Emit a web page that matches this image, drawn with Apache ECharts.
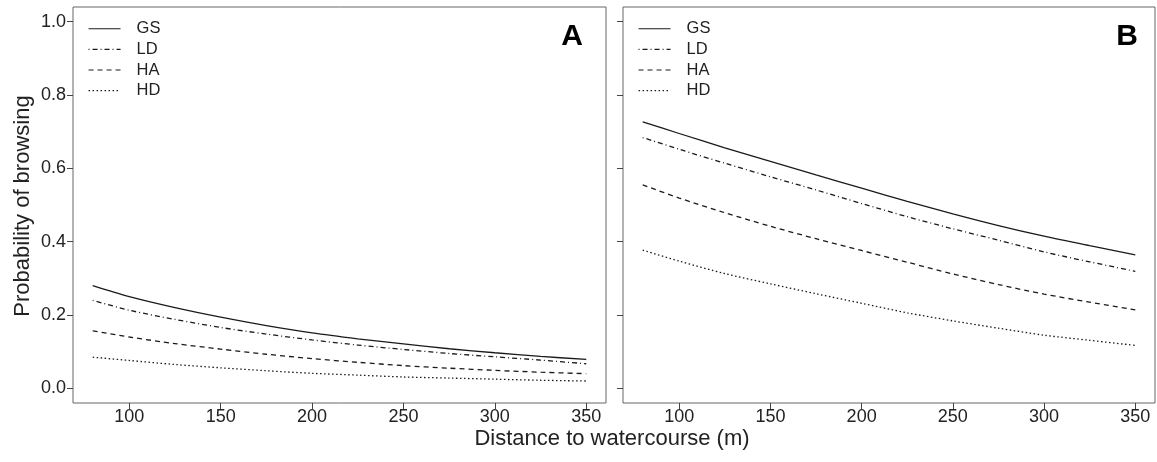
<!DOCTYPE html>
<html>
<head>
<meta charset="utf-8">
<script src="https://cdn.jsdelivr.net/npm/echarts@6/dist/echarts.min.js"></script>
<style>
html,body{margin:0;padding:0;background:#fff;}
#c{width:1157px;height:462px;}
</style>
</head>
<body>
<div id="c"></div>
<script>
var distance = [80, 100, 125, 150, 175, 200, 225, 250, 275, 300, 325, 350];
var seriesNames = ['GS', 'LD', 'HA', 'HD'];
var xTicks = [100, 150, 200, 250, 300, 350];
var yTicks = [0, 0.2, 0.4, 0.6, 0.8, 1.0];
var panelLabels = ['A', 'B'];

// Panel A
var A_GS = [0.280, 0.250, 0.220, 0.194, 0.171, 0.151, 0.135, 0.121, 0.108, 0.097, 0.087, 0.079];
var A_LD = [0.240, 0.213, 0.188, 0.166, 0.148, 0.132, 0.118, 0.106, 0.095, 0.086, 0.077, 0.067];
var A_HA = [0.157, 0.140, 0.122, 0.107, 0.093, 0.081, 0.071, 0.062, 0.055, 0.049, 0.044, 0.040];
var A_HD = [0.085, 0.076, 0.065, 0.056, 0.048, 0.041, 0.036, 0.031, 0.028, 0.025, 0.022, 0.020];
// Panel B
var B_GS = [0.727, 0.695, 0.656, 0.619, 0.582, 0.546, 0.510, 0.476, 0.444, 0.415, 0.389, 0.364];
var B_LD = [0.684, 0.652, 0.614, 0.577, 0.541, 0.504, 0.468, 0.435, 0.404, 0.372, 0.345, 0.319];
var B_HA = [0.555, 0.519, 0.479, 0.442, 0.408, 0.376, 0.344, 0.312, 0.283, 0.257, 0.235, 0.214];
var B_HD = [0.377, 0.347, 0.313, 0.285, 0.258, 0.232, 0.206, 0.184, 0.164, 0.145, 0.131, 0.117];

var panels = [[A_GS, A_LD, A_HA, A_HD], [B_GS, B_LD, B_HA, B_HD]];
var dashTypes = ['solid', [1, 3, 5, 3], [5, 4], [1.5, 2.5]];
var FONT = 'Liberation Sans, Arial, sans-serif';
var INK = '#1a1a1a';

function pairs(vals) {
  return distance.map(function (d, i) { return [d, vals[i]]; });
}

var series = [];
panels.forEach(function (p, pi) {
  p.forEach(function (vals, si) {
    series.push({
      name: seriesNames[si],
      type: 'line',
      xAxisIndex: pi,
      yAxisIndex: pi,
      data: pairs(vals),
      symbol: 'none',
      smooth: 0.3,
      lineStyle: { color: INK, width: 1.3, type: dashTypes[si] },
      itemStyle: { color: INK },
      silent: true
    });
  });
});

function xAxis(gi) {
  return {
    type: 'value', gridIndex: gi, min: 69.2, max: 360.8,
    axisLine: { show: false, onZero: false },
    splitLine: { show: false },
    axisTick: { show: true, length: 6, customValues: xTicks, lineStyle: { color: '#444' } },
    axisLabel: { show: true, customValues: xTicks, margin: 5, fontSize: 18, color: '#222', fontFamily: FONT }
  };
}
function yAxis(gi, showLabels) {
  return {
    type: 'value', gridIndex: gi, min: -0.04, max: 1.04,
    axisLine: { show: false, onZero: false },
    splitLine: { show: false },
    axisTick: { show: true, length: 6, customValues: yTicks, lineStyle: { color: '#444' } },
    axisLabel: {
      show: showLabels, customValues: yTicks, margin: 7, fontSize: 18, color: '#222', fontFamily: FONT,
      formatter: function (v) { return v.toFixed(1); }
    }
  };
}

function legend(left) {
  return {
    left: left, top: 20.3, orient: 'vertical', padding: 0,
    itemWidth: 32, itemHeight: 18, itemGap: 3.6,
    selectedMode: false,
    itemStyle: { opacity: 0 },
    lineStyle: { width: 1.1 },
    textStyle: { fontSize: 16.5, color: '#222', fontFamily: FONT, padding: [0, 0, 0, 11] },
    data: seriesNames
  };
}

var option = {
  animation: false,
  backgroundColor: '#fff',
  grid: [
    { left: 73, top: 7, width: 533, height: 396, show: true, borderColor: '#666', borderWidth: 1, backgroundColor: 'transparent' },
    { left: 623, top: 7, width: 532, height: 396, show: true, borderColor: '#666', borderWidth: 1, backgroundColor: 'transparent' }
  ],
  xAxis: [xAxis(0), xAxis(1)],
  yAxis: [yAxis(0, true), yAxis(1, false)],
  legend: [legend(88), legend(638)],
  series: series,
  graphic: [
    { type: 'text', x: 572, y: 37, style: { text: panelLabels[0], font: 'bold 30px ' + FONT, fill: '#000', textAlign: 'center', textVerticalAlign: 'middle' } },
    { type: 'text', x: 1127, y: 37, style: { text: panelLabels[1], font: 'bold 30px ' + FONT, fill: '#000', textAlign: 'center', textVerticalAlign: 'middle' } },
    { type: 'text', x: 612, y: 439, style: { text: 'Distance to watercourse (m)', font: '22px ' + FONT, fill: '#222', textAlign: 'center', textVerticalAlign: 'middle' } },
    { type: 'text', x: 23, y: 206, rotation: Math.PI / 2, style: { text: 'Probability of browsing', font: '22px ' + FONT, fill: '#222', textAlign: 'center', textVerticalAlign: 'middle' } }
  ]
};

var chart = echarts.init(document.getElementById('c'), null, { renderer: 'canvas' });
chart.setOption(option);
</script>
</body>
</html>
